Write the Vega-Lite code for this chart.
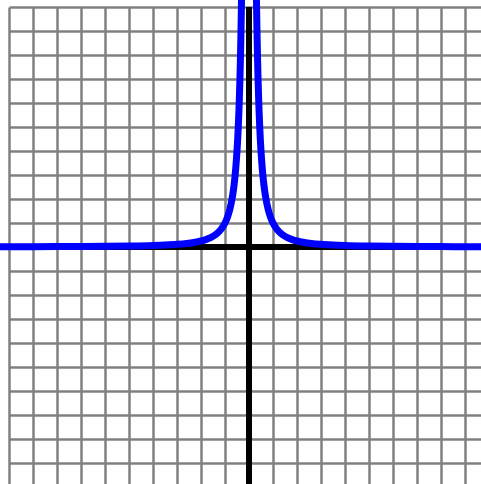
{
  "$schema": "https://vega.github.io/schema/vega-lite/v6.json",
  "autosize": "none",
  "width": 472,
  "height": 477,
  "padding": {"left": 9, "top": 7, "right": 0, "bottom": 0},
  "background": "white",
  "config": {
    "view": {"stroke": null},
    "axis": {"grid": true, "gridColor": "#808080", "gridWidth": 2.5, "gridOpacity": 1, "labels": false, "ticks": false, "domain": false, "title": null}
  },
  "data": {"values": [
    {"branch": "R", "x": 0.31, "y": 10.406},
    {"branch": "R", "x": 0.32, "y": 9.766},
    {"branch": "R", "x": 0.33, "y": 9.183},
    {"branch": "R", "x": 0.34, "y": 8.651},
    {"branch": "R", "x": 0.35, "y": 8.163},
    {"branch": "R", "x": 0.36, "y": 7.716},
    {"branch": "R", "x": 0.38, "y": 6.925},
    {"branch": "R", "x": 0.4, "y": 6.25},
    {"branch": "R", "x": 0.42, "y": 5.669},
    {"branch": "R", "x": 0.45, "y": 4.938},
    {"branch": "R", "x": 0.475, "y": 4.432},
    {"branch": "R", "x": 0.5, "y": 4.0},
    {"branch": "R", "x": 0.55, "y": 3.306},
    {"branch": "R", "x": 0.6, "y": 2.778},
    {"branch": "R", "x": 0.65, "y": 2.367},
    {"branch": "R", "x": 0.7, "y": 2.041},
    {"branch": "R", "x": 0.8, "y": 1.5625},
    {"branch": "R", "x": 0.9, "y": 1.235},
    {"branch": "R", "x": 1.0, "y": 1.0},
    {"branch": "R", "x": 1.1, "y": 0.826},
    {"branch": "R", "x": 1.25, "y": 0.64},
    {"branch": "R", "x": 1.4, "y": 0.51},
    {"branch": "R", "x": 1.6, "y": 0.391},
    {"branch": "R", "x": 1.8, "y": 0.309},
    {"branch": "R", "x": 2.0, "y": 0.25},
    {"branch": "R", "x": 2.3, "y": 0.189},
    {"branch": "R", "x": 2.6, "y": 0.148},
    {"branch": "R", "x": 3.0, "y": 0.111},
    {"branch": "R", "x": 3.5, "y": 0.082},
    {"branch": "R", "x": 4.0, "y": 0.0625},
    {"branch": "R", "x": 5.0, "y": 0.04},
    {"branch": "R", "x": 6.0, "y": 0.028},
    {"branch": "R", "x": 7.0, "y": 0.02},
    {"branch": "R", "x": 8.0, "y": 0.016},
    {"branch": "R", "x": 9.0, "y": 0.012},
    {"branch": "R", "x": 10.0, "y": 0.01},
    {"branch": "L", "x": -0.31, "y": 10.406},
    {"branch": "L", "x": -0.32, "y": 9.766},
    {"branch": "L", "x": -0.33, "y": 9.183},
    {"branch": "L", "x": -0.34, "y": 8.651},
    {"branch": "L", "x": -0.35, "y": 8.163},
    {"branch": "L", "x": -0.36, "y": 7.716},
    {"branch": "L", "x": -0.38, "y": 6.925},
    {"branch": "L", "x": -0.4, "y": 6.25},
    {"branch": "L", "x": -0.42, "y": 5.669},
    {"branch": "L", "x": -0.45, "y": 4.938},
    {"branch": "L", "x": -0.475, "y": 4.432},
    {"branch": "L", "x": -0.5, "y": 4.0},
    {"branch": "L", "x": -0.55, "y": 3.306},
    {"branch": "L", "x": -0.6, "y": 2.778},
    {"branch": "L", "x": -0.65, "y": 2.367},
    {"branch": "L", "x": -0.7, "y": 2.041},
    {"branch": "L", "x": -0.8, "y": 1.5625},
    {"branch": "L", "x": -0.9, "y": 1.235},
    {"branch": "L", "x": -1.0, "y": 1.0},
    {"branch": "L", "x": -1.1, "y": 0.826},
    {"branch": "L", "x": -1.25, "y": 0.64},
    {"branch": "L", "x": -1.4, "y": 0.51},
    {"branch": "L", "x": -1.6, "y": 0.391},
    {"branch": "L", "x": -1.8, "y": 0.309},
    {"branch": "L", "x": -2.0, "y": 0.25},
    {"branch": "L", "x": -2.3, "y": 0.189},
    {"branch": "L", "x": -2.6, "y": 0.148},
    {"branch": "L", "x": -3.0, "y": 0.111},
    {"branch": "L", "x": -3.5, "y": 0.082},
    {"branch": "L", "x": -4.0, "y": 0.0625},
    {"branch": "L", "x": -5.0, "y": 0.04},
    {"branch": "L", "x": -6.0, "y": 0.028},
    {"branch": "L", "x": -7.0, "y": 0.02},
    {"branch": "L", "x": -8.0, "y": 0.016},
    {"branch": "L", "x": -9.0, "y": 0.012},
    {"branch": "L", "x": -10.5, "y": 0.009}
  ]},
  "layer": [
    {
      "mark": {"type": "rule", "color": "black", "strokeWidth": 4.5},
      "encoding": {
        "x": {"datum": 0, "type": "quantitative",
          "scale": {"domain": [-10, 9.667], "nice": false, "zero": false},
          "axis": {"values": [-10,-9,-8,-7,-6,-5,-4,-3,-2,-1,0,1,2,3,4,5,6,7,8,9]}}
      }
    },
    {
      "mark": {"type": "rule", "color": "black", "strokeWidth": 4.5},
      "encoding": {
        "y": {"datum": 0, "type": "quantitative",
          "scale": {"domain": [-9.875, 10], "nice": false, "zero": false},
          "axis": {"values": [-9,-8,-7,-6,-5,-4,-3,-2,-1,0,1,2,3,4,5,6,7,8,9,10]}}
      }
    },
    {
      "mark": {"type": "line", "color": "#0000ff", "strokeWidth": 7, "interpolate": "monotone", "clip": false},
      "encoding": {
        "x": {
          "field": "x", "type": "quantitative",
          "scale": {"domain": [-10, 9.667], "nice": false, "zero": false},
          "axis": {"values": [-10,-9,-8,-7,-6,-5,-4,-3,-2,-1,0,1,2,3,4,5,6,7,8,9]}
        },
        "y": {
          "field": "y", "type": "quantitative",
          "scale": {"domain": [-9.875, 10], "nice": false, "zero": false},
          "axis": {"values": [-9,-8,-7,-6,-5,-4,-3,-2,-1,0,1,2,3,4,5,6,7,8,9,10]}
        },
        "detail": {"field": "branch"}
      }
    }
  ]
}
